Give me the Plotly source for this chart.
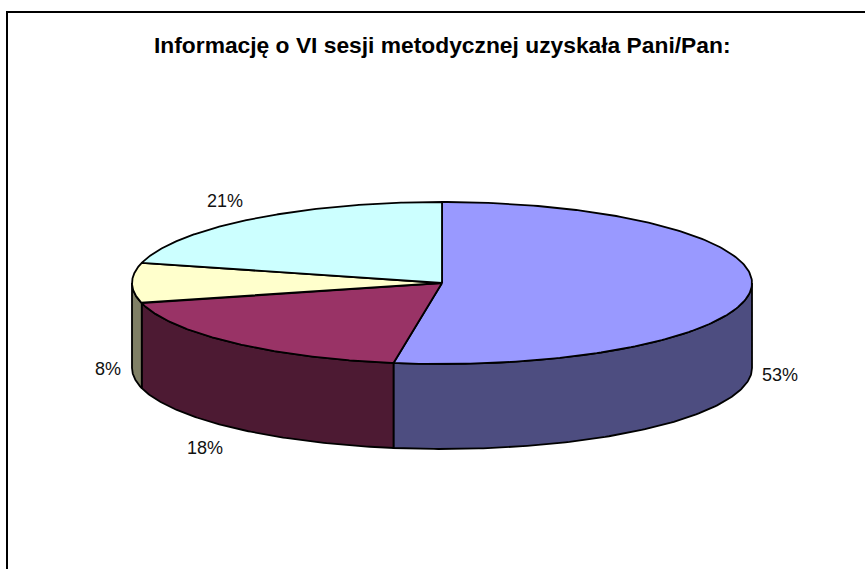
import numpy as np
import plotly.graph_objects as go

# --- data ---
labels = ["53%", "18%", "8%", "21%"]
shares = [52.5, 18.5, 8.0, 21.0]
top_colors = ["#9999FF", "#993366", "#FFFFCC", "#CCFFFF"]
side_colors = ["#4D4D80", "#4D1A33", "#808066", "#668080"]
title = "Informację o VI sesji metodycznej uzyskała Pani/Pan:"

# --- projection of the tilted pie, in page pixels ---
W, H = 865, 569
CX, CY, RX, RY, DEPTH = 442, 283, 310, 81, 85
LABEL_DX = [29, -28, -24, -27]
LABEL_DY = [1, 20, 1, -18]
EDGE = dict(color="black", width=1.8)


def rim(t):
    return CX + RX * np.sin(t), CY - RY * np.cos(t)


fig = go.Figure()
edges = 2 * np.pi * np.concatenate([[0], np.cumsum(shares)]) / sum(shares)

# side walls (only the part facing the viewer: 90 to 270 degrees)
for a, b, c in zip(edges[:-1], edges[1:], side_colors):
    lo, hi = max(a, np.pi / 2), min(b, 3 * np.pi / 2)
    if hi <= lo:
        continue
    t = np.linspace(lo, hi, 120)
    x, y = rim(t)
    fig.add_trace(go.Scatter(
        x=np.concatenate([x, x[::-1], x[:1]]),
        y=np.concatenate([y, y[::-1] + DEPTH, y[:1]]),
        mode="lines", fill="toself", fillcolor=c,
        line=EDGE, hoverinfo="skip"))

# top faces
for a, b, c in zip(edges[:-1], edges[1:], top_colors):
    t = np.linspace(a, b, 200)
    x, y = rim(t)
    fig.add_trace(go.Scatter(
        x=np.concatenate([[CX], x, [CX]]),
        y=np.concatenate([[CY], y, [CY]]),
        mode="lines", fill="toself", fillcolor=c,
        line=EDGE, hoverinfo="skip"))

# percentage labels placed around the rim at each slice's mid-angle
for a, b, txt, dx, dy in zip(edges[:-1], edges[1:], labels, LABEL_DX, LABEL_DY):
    m = (a + b) / 2
    x, y = rim(m)
    if np.cos(m) < 0.01:
        y += DEPTH
    fig.add_annotation(x=x + dx, y=y + dy, text=txt, showarrow=False,
                       font=dict(family="Liberation Sans", size=18, color="#111111"))

fig.add_annotation(x=442, y=45, text=f"<b>{title}</b>", showarrow=False,
                   font=dict(family="Liberation Sans", size=22.8, color="black"))

# frame: only the top and left edges fall inside the page
fig.add_shape(type="line", x0=7, x1=7, y0=11, y1=H, line=dict(color="black", width=2))
fig.add_shape(type="line", x0=6, x1=W, y0=12, y1=12, line=dict(color="black", width=2))

fig.update_layout(
    width=W, height=H, showlegend=False, margin=dict(l=0, r=0, t=0, b=0),
    paper_bgcolor="white", plot_bgcolor="white",
    xaxis=dict(range=[0, W], visible=False, fixedrange=True),
    yaxis=dict(range=[H, 0], visible=False, fixedrange=True),
)
fig.write_html("out.html", config={"displayModeBar": False},
               post_script="document.body.style.margin='0';")
